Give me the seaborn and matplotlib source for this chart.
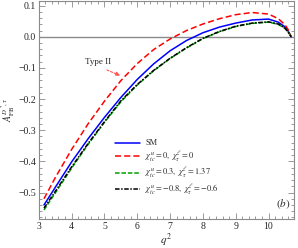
import matplotlib
matplotlib.use("Agg")
import matplotlib.pyplot as plt
from matplotlib.ticker import MultipleLocator
import seaborn as sns
import pandas as pd

# values
q2 = [3.16, 3.5, 4.0, 4.5, 5.0, 5.5, 6.0, 6.5, 7.0, 7.5, 8.0, 8.5, 9.0, 9.5,
      10.0, 10.3, 10.5, 10.6, 10.69]
afb_sm = [-0.54, -0.484, -0.402, -0.328, -0.259, -0.195, -0.137, -0.087,
          -0.045, -0.012, 0.013, 0.031, 0.044, 0.054, 0.057, 0.047, 0.032,
          0.018, 0.0]
afb_00 = [-0.52, -0.453, -0.362, -0.280, -0.207, -0.141, -0.086, -0.041,
          -0.007, 0.020, 0.041, 0.058, 0.071, 0.078, 0.073, 0.058, 0.039,
          0.023, 0.0]
afb_03 = [-0.556, -0.502, -0.422, -0.346, -0.275, -0.209, -0.155, -0.109,
          -0.07, -0.036, -0.006, 0.016, 0.033, 0.043, 0.047, 0.04, 0.027,
          0.015, 0.0]
afb_08 = [-0.55, -0.497, -0.418, -0.343, -0.273, -0.206, -0.153, -0.108,
          -0.069, -0.035, -0.005, 0.017, 0.034, 0.044, 0.048, 0.041, 0.028,
          0.015, 0.0]

labels = ["SM",
          r"$\chi^{u}_{tc}=0,\ \chi^{\ell}_{\tau}=0$",
          r"$\chi^{u}_{tc}=0.3,\ \chi^{\ell}_{\tau}=1.37$",
          r"$\chi^{u}_{tc}=-0.8,\ \chi^{\ell}_{\tau}=-0.6$"]

df = pd.DataFrame({"q2": q2 * 4,
                   "afb": afb_sm + afb_00 + afb_03 + afb_08,
                   "case": sum([[l] * len(q2) for l in labels], [])})

sns.set_theme(style="ticks")
plt.rcParams["font.family"] = ["Liberation Serif", "DejaVu Serif"]
plt.rcParams["mathtext.fontset"] = "stix"

frame = "#8a8a8a"
fig = plt.figure(figsize=(2.98, 2.48), dpi=100)
ax = fig.add_axes([0.13, 0.117, 0.857, 0.879])

ax.axhline(0, color=frame, lw=1.0, zorder=1)

styles = [("#0000ff", "-"), ("#ff0000", (0, (4, 2))),
          ("#00a000", (0, (3, 1.2))), ("#000000", (0, (3, 1, 1, 1)))]
for lab, (col, ls) in zip(labels, styles):
    sns.lineplot(data=df[df["case"] == lab], x="q2", y="afb", ax=ax,
                 color=col, linestyle=ls, lw=1.1, label=lab)

ax.set_xlim(3.0, 10.78)
ax.set_ylim(-0.585, 0.115)
ax.xaxis.set_major_locator(MultipleLocator(1))
ax.xaxis.set_minor_locator(MultipleLocator(0.2))
ax.yaxis.set_major_locator(MultipleLocator(0.1))
ax.yaxis.set_minor_locator(MultipleLocator(0.02))
ax.yaxis.set_major_formatter(plt.FuncFormatter(
    lambda v, p: f"{v:.1f}".replace("-", "\u2212")))

ax.tick_params(which="both", direction="in", top=True, right=True,
               color=frame, width=0.6, labelsize=7, pad=2)
ax.tick_params(which="major", length=4)
ax.tick_params(which="minor", length=2)
for sp in ax.spines.values():
    sp.set_color(frame)
    sp.set_linewidth(0.8)

ax.set_xlabel(r"$q^2$", fontsize=8, labelpad=1)
ax.set_ylabel(r"$A_{\rm FB}^{D^*\!,\tau}$", fontsize=7, labelpad=1)

# Type II annotation
ax.text(4.4, -0.08, "Type II", fontsize=6.5, ha="left", va="center")
ax.annotate("", xy=(5.56, -0.128), xytext=(5.0, -0.103),
            arrowprops=dict(arrowstyle="-|>", color="#ff5555", lw=0.8,
                            ls=(0, (2, 1.5)), mutation_scale=6))

ax.text(0.985, 0.035, r"$(b)$", transform=ax.transAxes, fontsize=8,
        ha="right", va="bottom")

leg = ax.legend(loc="upper left", bbox_to_anchor=(0.299, 0.365),
                frameon=False, fontsize=6, handlelength=3.0,
                handletextpad=0.6, labelspacing=0.25, borderpad=0,
                borderaxespad=0)

fig.savefig("out.png", dpi=100)
